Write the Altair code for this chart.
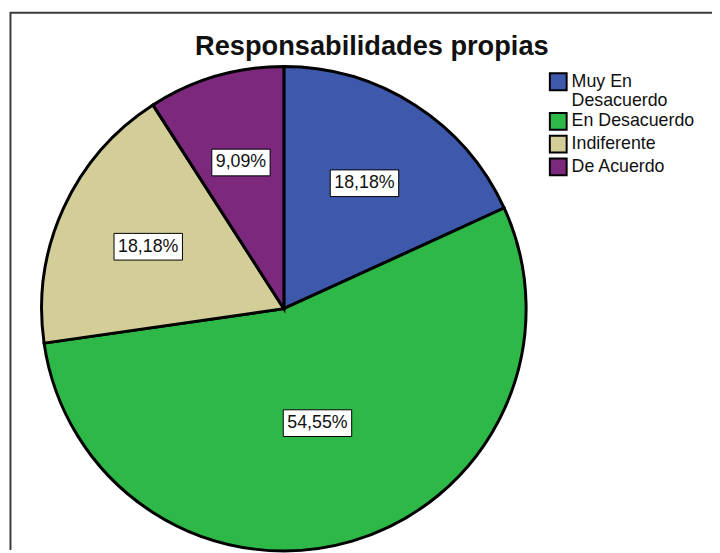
import altair as alt
import pandas as pd

# ---- data ----
categories = ["Muy En Desacuerdo", "En Desacuerdo", "Indiferente", "De Acuerdo"]
percentages = [18.18, 54.55, 18.18, 9.09]
colors = ["#3E58AC", "#2EB848", "#D3CE97", "#7C287D"]
title_text = "Responsabilidades propias"

df = pd.DataFrame({"categoria": categories, "pct": percentages, "orden": list(range(len(categories)))})

# ---- layout ----
W, H = 712, 545
CX, CY, R = 279, 301, 245
FONT = "Liberation Sans"

base = (
    alt.Chart(df)
    .transform_window(cum="sum(pct)", sort=[alt.SortField("orden")], frame=[None, 0])
    .transform_joinaggregate(total="sum(pct)")
    .transform_calculate(
        t0="2*PI*(datum.cum - datum.pct)/datum.total",
        t1="2*PI*datum.cum/datum.total",
    )
    .transform_calculate(
        tm="(datum.t0 + datum.t1)/2",
        half="(datum.t1 - datum.t0)/2",
    )
    # label distance: blend of the sector centroid and a fixed share of the radius
    .transform_calculate(
        lr=f"0.5*(2*{R}*sin(datum.half)/(3*datum.half)) + 0.3*{R}",
    )
    .transform_calculate(
        lx=f"{CX} + datum.lr*sin(datum.tm)",
        ly=f"{CY} - datum.lr*cos(datum.tm)",
        etiqueta="replace(format(datum.pct, '.2f'), '.', ',') + '%'",
    )
    .transform_calculate(bw="length(datum.etiqueta)*10.2 + 8")
    .transform_calculate(
        bx0="datum.lx - datum.bw/2",
        bx1="datum.lx + datum.bw/2",
        by0="datum.ly - 13.5",
        by1="datum.ly + 13.5",
    )
)

pie = base.mark_arc(stroke="black", strokeWidth=3, radius=R).encode(
    theta=alt.Theta("t0:Q", scale=None),
    theta2=alt.Theta2("t1:Q"),
    x=alt.value(CX),
    y=alt.value(CY),
    color=alt.Color(
        "categoria:N",
        scale=alt.Scale(domain=categories, range=colors),
        legend=alt.Legend(
            title=None,
            orient="none",
            legendX=547,
            legendY=62,
            padding=0,
            symbolType="square",
            symbolSize=289,
            symbolStrokeColor="black",
            symbolStrokeWidth=2,
            symbolOpacity=1,
            labelFontSize=18,
            labelFont=FONT,
            labelColor="#111111",
            labelOffset=4,
            labelLimit=300,
            rowPadding=-2,
            labelExpr="datum.label == 'Muy En Desacuerdo' ? ['Muy En', 'Desacuerdo'] : datum.label",
        ),
    ),
)

boxes = base.mark_rect(fill="white", stroke="black", strokeWidth=1).encode(
    x=alt.X("bx0:Q", scale=None, axis=None),
    x2="bx1:Q",
    y=alt.Y("by0:Q", scale=None, axis=None),
    y2="by1:Q",
)

texts = base.mark_text(fontSize=18, font=FONT, color="#111111", baseline="middle", align="center").encode(
    x=alt.X("lx:Q", scale=None, axis=None),
    y=alt.Y("ly:Q", scale=None, axis=None),
    text="etiqueta:N",
)

one = pd.DataFrame({"t": [title_text]})
title = alt.Chart(one).mark_text(
    fontSize=27.5, fontWeight="bold", font=FONT, color="#111111", baseline="alphabetic", align="center"
).encode(x=alt.value(368), y=alt.value(44), text="t:N")

frame_top = alt.Chart(one).mark_rule(stroke="#3a3a3a", strokeWidth=2).encode(
    x=alt.value(2), x2=alt.value(W), y=alt.value(1.8)
)
frame_left = alt.Chart(one).mark_rule(stroke="#3a3a3a", strokeWidth=2).encode(
    x=alt.value(2.5), y=alt.value(1), y2=alt.value(H)
)

chart = (
    alt.layer(frame_top, frame_left, pie, boxes, texts, title)
    .properties(width=W, height=H, padding=0, autosize=alt.AutoSizeParams(type="none"), background="white")
    .configure_view(stroke=None)
)

chart.save("out.html", embed_options={"renderer": "svg", "actions": False})
